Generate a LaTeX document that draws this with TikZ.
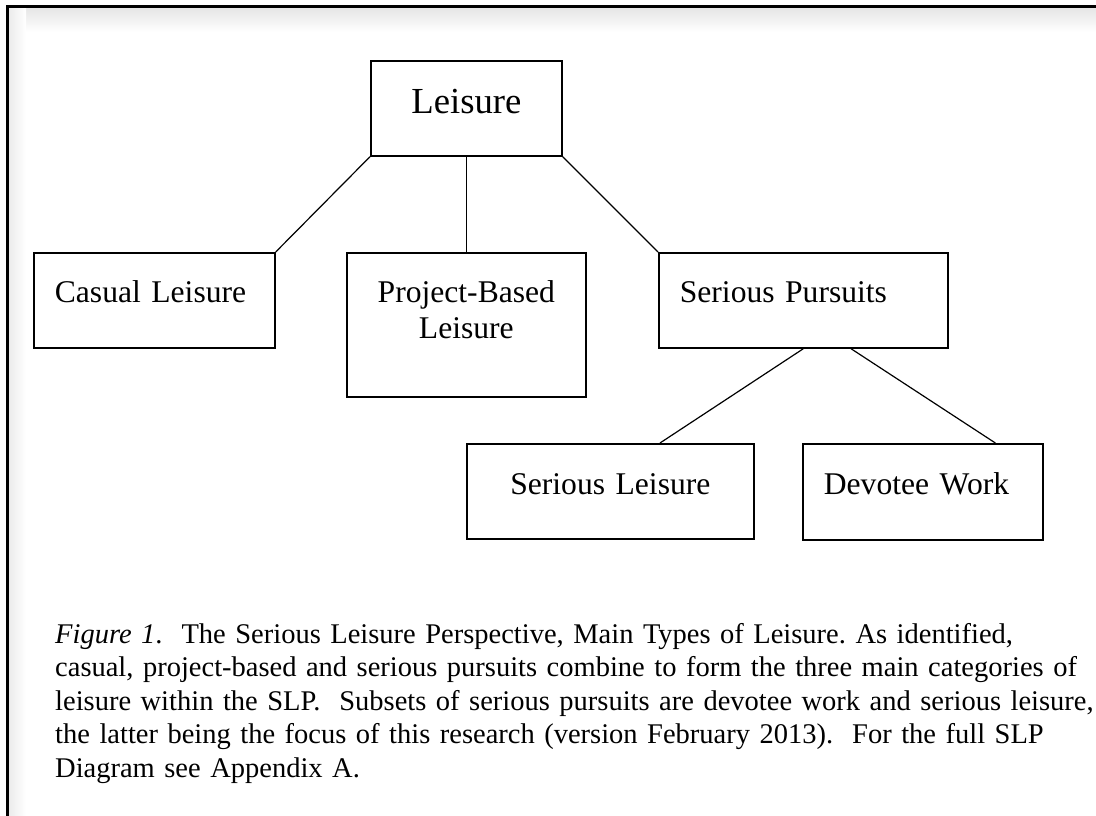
\documentclass[tikz,border=0pt]{standalone}
\usepackage{fontspec}
\setmainfont{Liberation Serif}
\usetikzlibrary{calc}
\frenchspacing

\begin{document}
\begin{tikzpicture}[x=1pt, y=-1pt,
  typebox/.style={draw, line width=1.7pt, rectangle, anchor=north west, inner ysep=0pt, font=\boxfont},
  leftbox/.style={typebox, align=left, inner xsep=21pt},
  midbox/.style={typebox, align=center, inner xsep=10pt},
  link/.style={line width=1.2pt},
  caption/.style={anchor=base west, align=left, text width=1040pt, inner sep=0pt, font=\captionfont}]
\def\boxfont{\fontsize{31.6}{36}\selectfont}
\def\topfont{\fontsize{36.7}{40}\selectfont}
\def\captionfont{\fontsize{28.5}{33.5}\selectfont}
\def\framecolor{black}

\fill[white] (0,0) rectangle (1096,816);
\useasboundingbox (0,0) rectangle (1096,816);

% FRAME
\shade[top color=black!10, bottom color=white] (8,8) rectangle (1096,32);
\shade[left color=black!8, right color=white] (8,8) rectangle (26,816);
\draw[line width=3pt, \framecolor] (7,816) -- (7,7) -- (1096,7);

% TOP LEVEL
\node[midbox, font=\topfont, text width=171pt, text height=53pt, text depth=42pt] (leis) at (370,60) {Leisure};

% SECOND ROW
\node[leftbox, text width=199pt, text height=50pt, text depth=45pt] (cas) at (33,252) {Casual Leisure};
\node[midbox, text width=219pt, text height=50pt, text depth=94pt] (proj) at (346,252) {Project-Based\\Leisure};
\node[leftbox, text width=247pt, text height=50pt, text depth=45pt] (ser) at (658,252) {Serious Pursuits};

% THIRD ROW
\node[midbox, text width=267pt, text height=51pt, text depth=44pt] (serl) at (466,443) {Serious Leisure};
\node[leftbox, text width=198pt, text height=51pt, text depth=45pt] (dev) at (802,443) {Devotee Work};

\draw[link] (leis.south west) -- (cas.north east);
\draw[link] (leis.south) -- (proj.north);
\draw[link] (leis.south east) -- (ser.north west);
\draw[link] (ser.south) -- ($(serl.north west)!0.672!(serl.north east)$);
\draw[link] ($(ser.south west)!0.664!(ser.south east)$) -- ($(dev.north west)!0.8!(dev.north east)$);

% CAPTION
\node[caption] (cap) at (55,643) {\textit{Figure 1}.\ \ The Serious Leisure Perspective, Main Types of Leisure. As identified,\\
casual, project-based and serious pursuits combine to form the three main categories of\\
leisure within the SLP.\ \ Subsets of serious pursuits are devotee work and serious leisure,\\
the latter being the focus of this research (version February 2013).\ \ For the full SLP\\
Diagram see Appendix A.};
\end{tikzpicture}
\end{document}
